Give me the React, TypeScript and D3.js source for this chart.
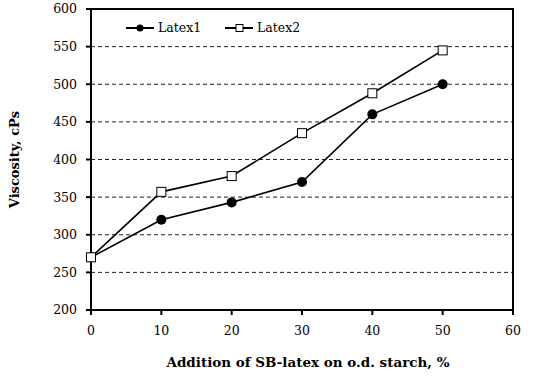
import React from "react";
import * as d3 from "d3";

const xValues = [0, 10, 20, 30, 40, 50];
const latex1 = [270, 320, 343, 370, 460, 500];
const latex2 = [270, 357, 378, 435, 488, 545];
const xTicks = [0, 10, 20, 30, 40, 50, 60];
const yTicks = [200, 250, 300, 350, 400, 450, 500, 550, 600];
const gridTicks = [250, 300, 350, 400, 450, 500, 550];

const W = 534;
const H = 379;
const left = 91;
const right = 513;
const top = 9;
const bottom = 310;
const FONT = "'DejaVu Serif', serif";

export default function App() {
  const x = d3.scaleLinear().domain([0, 60]).range([left, right]);
  const y = d3.scaleLinear().domain([200, 600]).range([bottom, top]);
  const line = d3
    .line<number>()
    .x((_, i) => x(xValues[i]))
    .y((d) => y(d));

  return (
    <svg
      width={W}
      height={H}
      style={{ position: "absolute", left: 0, top: 0, background: "#fff" }}
      fontFamily={FONT}
    >
      <rect width={W} height={H} fill="#fff" />
      {gridTicks.map((t) => (
        <line
          key={t}
          x1={left}
          x2={right}
          y1={y(t)}
          y2={y(t)}
          stroke="#222"
          strokeWidth={1}
          strokeDasharray="4,3"
        />
      ))}
      <rect
        x={left}
        y={top}
        width={right - left}
        height={bottom - top}
        fill="none"
        stroke="#000"
        strokeWidth={2}
      />
      {yTicks.map((t) => (
        <g key={t}>
          <line x1={left - 5} x2={left} y1={y(t)} y2={y(t)} stroke="#000" strokeWidth={2} />
          <text x={77} y={y(t)} dy="0.35em" textAnchor="end" fontSize={12.5} fill="#000">
            {t}
          </text>
        </g>
      ))}
      {xTicks.map((t) => (
        <g key={t}>
          <line x1={x(t)} x2={x(t)} y1={bottom} y2={bottom + 5} stroke="#000" strokeWidth={2} />
          <text x={x(t)} y={335} textAnchor="middle" fontSize={12.5} fill="#000">
            {t}
          </text>
        </g>
      ))}
      <path d={line(latex2) || ""} fill="none" stroke="#000" strokeWidth={1.6} />
      <path d={line(latex1) || ""} fill="none" stroke="#000" strokeWidth={1.6} />
      {latex1.map((v, i) => (
        <circle key={"a" + i} cx={x(xValues[i])} cy={y(v)} r={5} fill="#000" />
      ))}
      {latex2.map((v, i) => (
        <rect
          key={"b" + i}
          x={x(xValues[i]) - 4.5}
          y={y(v) - 4.5}
          width={9}
          height={9}
          fill="#fff"
          stroke="#000"
          strokeWidth={1}
        />
      ))}
      <line x1={126} x2={154} y1={28} y2={28} stroke="#000" strokeWidth={2} />
      <circle cx={140} cy={28} r={3.5} fill="#000" />
      <text x={158} y={28} dy="0.35em" fontSize={12.5} fill="#000">
        Latex1
      </text>
      <line x1={225} x2={253} y1={28} y2={28} stroke="#000" strokeWidth={2} />
      <rect x={236} y={24.5} width={7} height={7} fill="#fff" stroke="#000" strokeWidth={1} />
      <text x={257} y={28} dy="0.35em" fontSize={12.5} fill="#000">
        Latex2
      </text>
      <text
        x={308}
        y={367}
        textAnchor="middle"
        fontSize={13.5}
        fontWeight="bold"
        fill="#000"
      >
        Addition of SB-latex on o.d. starch, %
      </text>
      <text
        transform={`translate(19,${(top + bottom) / 2}) rotate(-90)`}
        textAnchor="middle"
        fontSize={13}
        fontWeight="bold"
        fill="#000"
      >
        Viscosity, cPs
      </text>
    </svg>
  );
}
